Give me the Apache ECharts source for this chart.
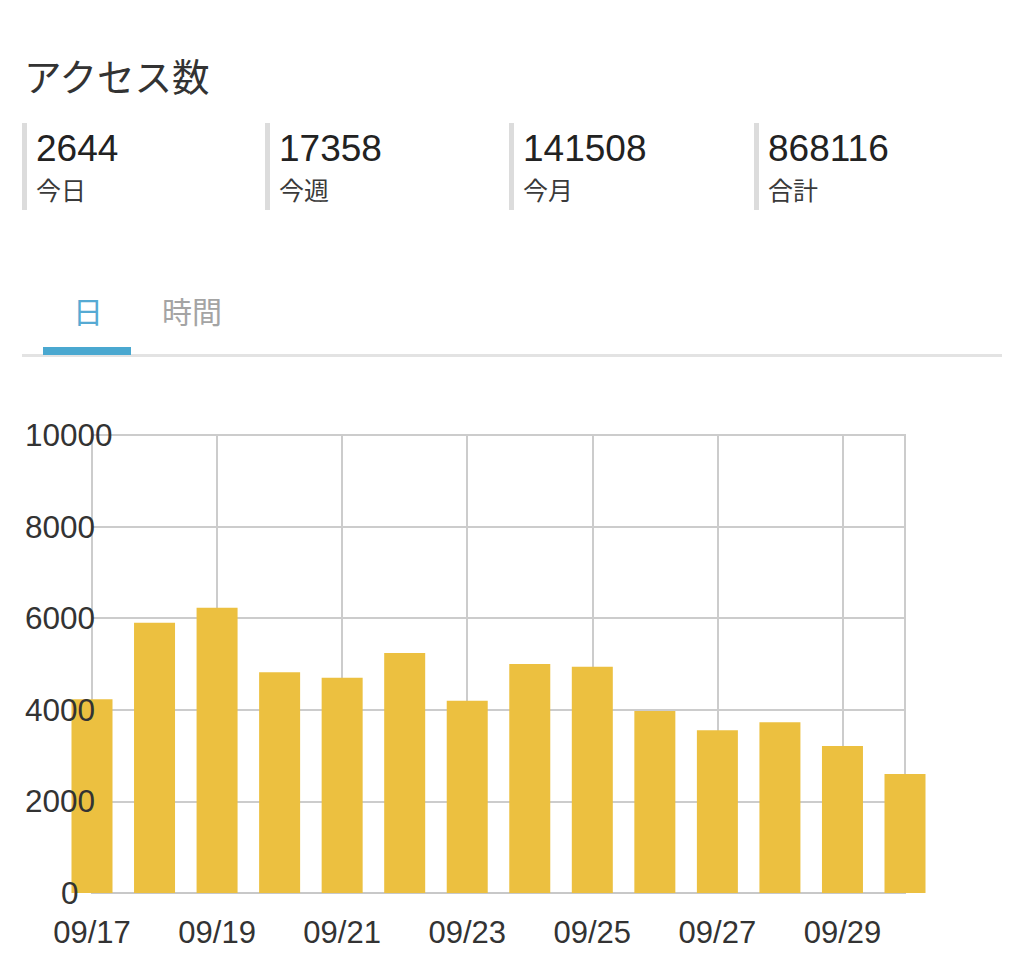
<!DOCTYPE html>
<html>
<head>
<meta charset="utf-8">
<script src="https://cdn.jsdelivr.net/npm/echarts@6/dist/echarts.min.js"></script>
<style>
html,body{margin:0;padding:0;background:#fff;}
#chart{width:1024px;height:967px;}
</style>
</head>
<body>
<div id="chart"></div>
<script>
const titleText = 'アクセス数';
const statValues = ['2644', '17358', '141508', '868116'];
const statLabels = ['今日', '今週', '今月', '合計'];
const tabLabels = ['日', '時間'];
const categories = ['09/17','09/18','09/19','09/20','09/21','09/22','09/23','09/24','09/25','09/26','09/27','09/28','09/29','09/30'];
const visits = [4230, 5900, 6230, 4820, 4700, 5240, 4200, 5000, 4940, 3975, 3555, 3730, 3210, 2600];
const yTicks = [0, 2000, 4000, 6000, 8000, 10000];

const LATIN = '"Liberation Sans", "Noto Sans CJK JP", sans-serif';
const CJK = '"Noto Sans CJK JP", "Liberation Sans", sans-serif';

const chart = echarts.init(document.getElementById('chart'), null, {renderer: 'svg'});

const statX = [22, 265, 509, 754];
const graphics = [
  {type: 'text', x: 24, y: 74, style: {text: titleText, font: '37.5px ' + CJK, fill: '#333', textVerticalAlign: 'middle', textAlign: 'left'}}
];
statX.forEach((x, i) => {
  graphics.push({type: 'rect', shape: {x: x, y: 123, width: 5, height: 87}, style: {fill: '#dcdcdc'}});
  graphics.push({type: 'text', x: x + 14, y: 148, style: {text: statValues[i], font: '37px ' + LATIN, fill: '#222', textVerticalAlign: 'middle', textAlign: 'left'}});
  graphics.push({type: 'text', x: x + 14, y: 189, style: {text: statLabels[i], font: '25px ' + CJK, fill: '#3a3a3a', textVerticalAlign: 'middle', textAlign: 'left'}});
});
graphics.push({type: 'text', x: 88, y: 310, style: {text: tabLabels[0], font: '30px ' + CJK, fill: '#56aad3', textAlign: 'center', textVerticalAlign: 'middle'}});
graphics.push({type: 'text', x: 192, y: 310, style: {text: tabLabels[1], font: '30px ' + CJK, fill: '#a4a4a4', textAlign: 'center', textVerticalAlign: 'middle'}});
graphics.push({type: 'rect', shape: {x: 22, y: 354, width: 980, height: 3}, style: {fill: '#e3e3e3'}});
graphics.push({type: 'rect', shape: {x: 43, y: 347, width: 88, height: 8}, style: {fill: '#4aa8d0'}});

const yMin = yTicks[0], yMax = yTicks[yTicks.length - 1], yStep = yTicks[1] - yTicks[0];

chart.setOption({
  animation: false,
  backgroundColor: '#fff',
  graphic: graphics,
  grid: {left: 92, right: 119, top: 435, bottom: 74, show: true, borderColor: '#cccccc', borderWidth: 2, containLabel: false},
  xAxis: {
    type: 'category',
    data: categories,
    boundaryGap: false,
    axisLine: {show: true, lineStyle: {color: '#c8c8c8', width: 2}},
    axisTick: {show: false},
    axisLabel: {interval: 1, margin: 24, fontSize: 31, color: '#333', fontFamily: LATIN},
    splitLine: {show: true, interval: 1, lineStyle: {color: '#cccccc', width: 2}}
  },
  yAxis: [{
    type: 'value',
    position: 'left',
    offset: 0,
    min: yMin, max: yMax, interval: yStep,
    axisLine: {show: false},
    axisTick: {show: false},
    axisLabel: {show: false},
    splitLine: {show: true, lineStyle: {color: '#cccccc', width: 2}}
  }, {
    type: 'value',
    position: 'left',
    offset: 0,
    z: 10,
    min: yMin, max: yMax, interval: yStep,
    axisLine: {show: false},
    axisTick: {show: false},
    splitLine: {show: false},
    axisLabel: {
      align: 'left', margin: 67, fontSize: 31.5, color: '#333', fontFamily: LATIN,
      formatter: v => v === 0 ? '{z|0}' : String(v),
      rich: {z: {fontSize: 31.5, color: '#333', fontFamily: LATIN, padding: [0, 0, 0, 36]}}
    }
  }],
  series: [{
    type: 'bar',
    yAxisIndex: 0,
    data: visits,
    barWidth: 41,
    clip: false,
    itemStyle: {color: '#ecc040'}
  }]
});
</script>
</body>
</html>
